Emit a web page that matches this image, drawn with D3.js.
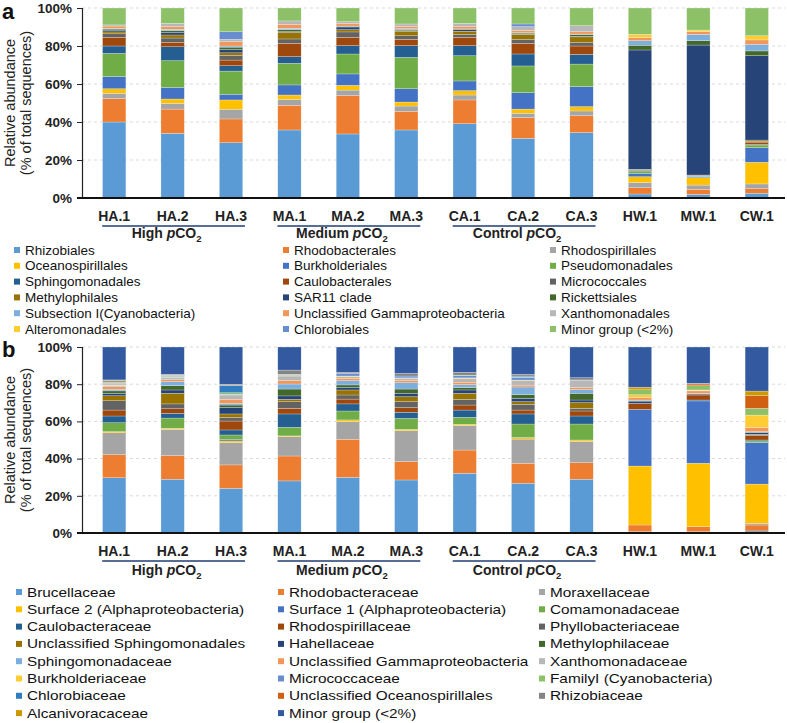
<!DOCTYPE html>
<html><head><meta charset="utf-8">
<script src="https://cdn.jsdelivr.net/npm/d3@7"></script>
<style>body{margin:0;background:#fff}svg{font-family:"Liberation Sans",Arial,sans-serif}</style>
</head><body><svg id="c" width="787" height="723"></svg>
<script>
// ---------- data ----------
const samples = ["HA.1","HA.2","HA.3","MA.1","MA.2","MA.3","CA.1","CA.2","CA.3","HW.1","MW.1","CW.1"];
const groupNames = ["High ", "Medium ", "Control "];
const groupMembers = [["HA.1","HA.3"],["MA.1","MA.3"],["CA.1","CA.3"]];
const yTicks = [0,20,40,60,80,100];

// panel a (orders)
const orderNames = ["Rhizobiales","Rhodobacterales","Rhodospirillales","Oceanospirillales","Burkholderiales","Pseudomonadales","Sphingomonadales","Caulobacterales","Micrococcales","Methylophilales","SAR11 clade","Rickettsiales","Subsection I(Cyanobacteria)","Unclassified Gammaproteobacteria","Xanthomonadales","Alteromonadales","Chlorobiales","Minor group (<2%)"];
const orderColors = ["#5B9BD5","#ED7D31","#A5A5A5","#FFC000","#4472C4","#70AD47","#255E91","#9E480E","#636363","#997300","#264478","#43682B","#7CAFDD","#F1975A","#B7B7B7","#FFCD33","#698ED0","#8CC168"];
const a_Rhizobiales       = [40.0,34.0,29.1,35.8,33.7,35.8,39.1,31.4,34.4,2.1,1.9,2.5];
const a_Rhodobacterales   = [12.3,12.8,12.5,13.0,20.2,9.8,12.5,10.9,8.9,3.3,2.7,2.4];
const a_Rhodospirillales  = [2.8,3.0,5.1,3.1,2.9,2.8,2.6,2.3,2.5,2.7,2.2,2.5];
const a_Oceanospirillales = [2.4,2.3,4.9,2.3,2.5,2.1,2.3,2.2,2.3,3.1,3.9,11.4];
const a_Burkholderiales   = [6.4,6.1,3.0,5.3,6.0,7.0,5.1,8.6,10.5,1.8,0.4,7.7];
const a_Pseudomonadales   = [12.2,14.1,12.2,11.4,10.5,16.5,13.3,14.1,11.9,1.2,0.4,1.4];
const a_Sphingomonadales  = [3.9,7.3,2.8,3.5,4.4,6.2,5.3,6.3,5.1,0.3,0.2,0.3];
const a_Caulobacterales   = [4.6,2.4,3.0,7.0,4.4,3.3,4.4,5.6,4.4,0.3,0.2,1.2];
const a_Micrococcales     = [1.8,2.2,2.5,2.3,2.8,1.9,1.5,2.1,1.8,0.3,0.2,0.5];
const a_Methylophilales   = [1.0,1.6,1.3,3.5,1.2,2.4,1.7,2.6,3.0,0,0,0.6];
const a_SAR11             = [0.6,1.3,1.7,0.4,1.4,0.3,0.8,0.2,0.3,62.8,68.4,44.4];
const a_Rickettsiales     = [0.9,0.9,1.3,1.0,0.4,0.6,0.3,0.5,0.9,2.5,2.3,2.5];
const a_SubsectionI       = [0.4,0.8,0.6,0.7,0.1,0.4,0.1,0.2,0.3,2.4,3.3,3.5];
const a_UnclGamma         = [1.2,1.4,2.3,2.1,1.4,1.1,1.2,1.1,1.2,1.6,1.4,2.3];
const a_Xanthomonadales   = [0.6,1.7,1.2,1.8,0.9,1.4,1.7,2.1,3.2,0,0,0];
const a_Alteromonadales   = [0,0,0,0,0,0,0,0,0,1.7,0.9,2.2];
const a_Chlorobiales      = [0,0,4.0,0,0,0,0,1.4,0,0,0,0];
const a_Minor             = [8.9,8.1,12.5,6.8,7.2,8.4,8.1,8.4,9.3,13.9,11.6,14.6];

// panel b (families)
const familyNames = ["Brucellaceae","Rhodobacteraceae","Moraxellaceae","Surface 2 (Alphaproteobacteria)","Surface 1 (Alphaproteobacteria)","Comamonadaceae","Caulobacteraceae","Rhodospirillaceae","Phyllobacteriaceae","Unclassified Sphingomonadales","Hahellaceae","Methylophilaceae","Sphingomonadaceae","Unclassified Gammaproteobacteria","Xanthomonadaceae","Burkholderiaceae","Micrococcaceae","FamilyI (Cyanobacteria)","Chlorobiaceae","Unclassified Oceanospirillales","Rhizobiaceae","Alcanivoracaceae","Minor group (<2%)"];
const familyColors = ["#5B9BD5","#ED7D31","#A5A5A5","#FFC000","#4472C4","#70AD47","#255E91","#9E480E","#636363","#997300","#264478","#43682B","#7CAFDD","#F1975A","#B7B7B7","#FFCD33","#698ED0","#8CC168","#327DC2","#D26012","#848484","#CC9A00","#335AA1"];
const b_Brucellaceae      = [29.7,28.9,24.0,28.0,29.9,28.5,32.1,26.7,28.9,0.7,0.7,1.1];
const b_Rhodobacteraceae  = [12.4,12.7,12.6,13.4,20.5,9.9,12.5,10.8,8.9,3.6,2.7,3.2];
const b_Moraxellaceae     = [11.8,14.1,12.0,10.4,9.5,16.6,13.1,13.0,11.5,0,0,0.9];
const b_Surface2          = [0.6,0.6,0.9,0.4,0.9,0.7,0.7,0.8,0.7,31.7,34.1,21.1];
const b_Surface1          = [0,0,0.9,0,0,0,0,0,0,30.5,33.5,22.3];
const b_Comamonadaceae    = [4.8,5.5,2.3,4.6,4.8,5.9,3.8,7.3,8.6,0,0,0.9];
const b_Caulobacteraceae  = [3.6,2.5,2.7,7.2,3.8,3.3,3.9,5.4,4.3,0,0.5,0.5];
const b_Rhodospirillaceae = [3.2,2.5,4.8,3.0,2.6,2.5,2.7,2.1,2.7,3.2,2.7,2.4];
const b_Phyllobacteriaceae= [5.0,2.6,2.0,3.6,2.2,3.2,3.1,3.1,1.4,0,0,0.4];
const b_UnclSphingo       = [2.7,5.7,1.8,1.3,2.7,2.7,3.2,1.4,3.1,0,0,0.3];
const b_Hahellaceae       = [1.2,1.8,3.6,1.8,1.4,1.8,1.8,1.8,1.4,1.2,0.5,0.8];
const b_Methylophilaceae  = [1.4,2.3,1.2,3.7,1.3,2.3,1.3,2.0,3.6,0.3,0.2,0.3];
const b_Sphingomonadaceae = [0.8,2.2,0.9,2.7,2.3,3.4,1.6,4.1,2.1,0.3,0.2,0.3];
const b_UnclGamma         = [1.4,1.0,2.2,1.8,1.3,1.1,1.3,1.0,1.1,1.4,1.3,2.3];
const b_Xanthomonadaceae  = [0.8,1.0,2.3,2.5,0.9,1.3,2.0,2.4,3.6,0,0.3,0];
const b_Burkholderiaceae  = [0.4,0.3,0.2,0.3,0.3,0.2,0.3,0.3,0.1,1.4,0.2,6.6];
const b_Micrococcaceae    = [0.6,0.5,0.2,0.3,1.4,1.0,1.2,1.5,0.3,0,0,0];
const b_FamilyI           = [0.3,0.3,0.8,0.3,0,0,0.3,0.3,0,2.7,2.3,3.6];
const b_Chlorobiaceae     = [0.3,0.3,3.8,0,0,0,0,0.4,0,0,0,0];
const b_UnclOceano        = [0.2,0.1,0.1,0,0,0,0,0,0,0,0.9,6.8];
const b_Rhizobiaceae      = [0.8,0.3,0.5,2.3,0.6,1.4,1.5,0.9,1.2,0,0.4,0];
const b_Alcanivoracaceae  = [0.3,0.1,0.1,0,0,0,0,0,0,1.4,0,2.5];
const b_Minor             = [17.7,14.7,20.1,12.4,13.6,14.2,13.6,14.7,16.5,21.6,19.5,23.7];

const orderSeries = [a_Rhizobiales,a_Rhodobacterales,a_Rhodospirillales,a_Oceanospirillales,a_Burkholderiales,a_Pseudomonadales,a_Sphingomonadales,a_Caulobacterales,a_Micrococcales,a_Methylophilales,a_SAR11,a_Rickettsiales,a_SubsectionI,a_UnclGamma,a_Xanthomonadales,a_Alteromonadales,a_Chlorobiales,a_Minor];
const familySeries = [b_Brucellaceae,b_Rhodobacteraceae,b_Moraxellaceae,b_Surface2,b_Surface1,b_Comamonadaceae,b_Caulobacteraceae,b_Rhodospirillaceae,b_Phyllobacteriaceae,b_UnclSphingo,b_Hahellaceae,b_Methylophilaceae,b_Sphingomonadaceae,b_UnclGamma,b_Xanthomonadaceae,b_Burkholderiaceae,b_Micrococcaceae,b_FamilyI,b_Chlorobiaceae,b_UnclOceano,b_Rhizobiaceae,b_Alcanivoracaceae,b_Minor];

// ---------- drawing ----------
const svg = d3.select("#c");
const x = d3.scaleBand().domain(samples).range([85, 786]).paddingInner(0.6).paddingOuter(0.3);
const axisX = 82, plotRight = 785;

function panel(o) {
  const g = svg.append("g");
  const y = d3.scaleLinear().domain([0, 100]).range([o.bottom, o.top]);
  g.append("g").selectAll("line").data(yTicks.filter(d => d > 0)).join("line")
    .attr("x1", axisX).attr("x2", plotRight).attr("y1", d => y(d)).attr("y2", d => y(d))
    .attr("stroke", "#d9d9d9").attr("stroke-dasharray", "3,3").attr("stroke-width", 1);
  const rows = samples.map((s, i) => { const r = {sample: s}; o.names.forEach((n, j) => r[n] = o.series[j][i]); return r; });
  const stack = d3.stack().keys(o.names)(rows);
  g.append("g").selectAll("g").data(stack).join("g").attr("fill", (d, i) => o.colors[i])
    .selectAll("rect").data(d => d).join("rect")
    .attr("x", d => x(d.data.sample)).attr("width", x.bandwidth())
    .attr("y", d => y(d[1])).attr("height", d => Math.max(0, y(d[0]) - y(d[1])))
    .attr("stroke", "#fff").attr("stroke-width", 0.4).attr("stroke-opacity", 0.6);
  const ya = g.append("g").attr("transform", `translate(${axisX},0)`)
    .call(d3.axisLeft(y).tickValues(yTicks).tickFormat(d => d + "%").tickSize(5).tickPadding(5));
  ya.select(".domain").attr("stroke", "#222").attr("stroke-width", 1.2);
  ya.selectAll(".tick line").attr("stroke", "#222");
  ya.selectAll(".tick text").attr("font-size", 13.5).attr("font-weight", "bold").attr("fill", "#222")
    .attr("font-family", "Liberation Sans, Arial, sans-serif");
  g.append("line").attr("x1", axisX - 5).attr("x2", plotRight).attr("y1", o.bottom).attr("y2", o.bottom)
    .attr("stroke", "#111").attr("stroke-width", 1.8);
  g.append("g").selectAll("text").data(samples).join("text")
    .attr("x", d => x(d) + x.bandwidth() / 2).attr("y", o.bottom + 23)
    .attr("text-anchor", "middle").attr("font-size", 14).attr("font-weight", "bold").attr("fill", "#222")
    .text(d => d);
  groupMembers.forEach((m, i) => {
    const c1 = x(m[0]) + x.bandwidth() / 2, c2 = x(m[1]) + x.bandwidth() / 2;
    g.append("line").attr("x1", c1 - 12).attr("x2", c2 + 14).attr("y1", o.bottom + 28).attr("y2", o.bottom + 28)
      .attr("stroke", "#1F3B73").attr("stroke-width", 1.6);
    const t = g.append("text").attr("x", (c1 + c2) / 2 - 6).attr("y", o.bottom + o.grpDy)
      .attr("text-anchor", "middle").attr("font-size", 14).attr("font-weight", "bold").attr("fill", "#222");
    t.append("tspan").text(groupNames[i]);
    t.append("tspan").attr("font-style", "italic").text("p");
    t.append("tspan").text("CO");
    t.append("tspan").attr("font-size", 9.5).attr("dy", 4).text("2");
  });
  const cy = (o.top + o.bottom) / 2;
  g.append("text").attr("transform", `translate(15,${cy}) rotate(-90)`).attr("text-anchor", "middle")
    .attr("font-size", 14.5).attr("fill", "#222").text("Relative abundance");
  g.append("text").attr("transform", `translate(31,${cy}) rotate(-90)`).attr("text-anchor", "middle")
    .attr("font-size", 14.5).attr("fill", "#222").text("(% of total sequences)");
  g.append("text").attr("x", 2).attr("y", o.letterY).attr("font-size", 22).attr("font-weight", "bold")
    .attr("fill", "#111").text(o.letter);
  const lg = g.append("g");
  o.names.forEach((n, i) => {
    const col = i % 3, row = Math.floor(i / 3);
    const cx = o.legCols[col], ly = o.legY + row * o.legDy;
    lg.append("rect").attr("x", cx).attr("y", ly - 3).attr("width", 6).attr("height", 6).attr("fill", o.colors[i]);
    lg.append("text").attr("transform", `translate(${cx + o.legGap},${ly + 4.5}) scale(${o.legScale},1)`)
      .attr("font-size", o.legFont).attr("fill", "#111").text(n);
  });
}

panel({top: 8, bottom: 198, names: orderNames, colors: orderColors, series: orderSeries,
  letter: "a", letterY: 19, grpDy: 40, legY: 250, legDy: 15.8, legCols: [14, 283, 550], legGap: 11,
  legFont: 13.5, legScale: 1});
panel({top: 347, bottom: 533, names: familyNames, colors: familyColors, series: familySeries,
  letter: "b", letterY: 357, grpDy: 42, legY: 592, legDy: 17.3, legCols: [16, 278, 539], legGap: 11,
  legFont: 13, legScale: 1.18});
</script></body></html>
